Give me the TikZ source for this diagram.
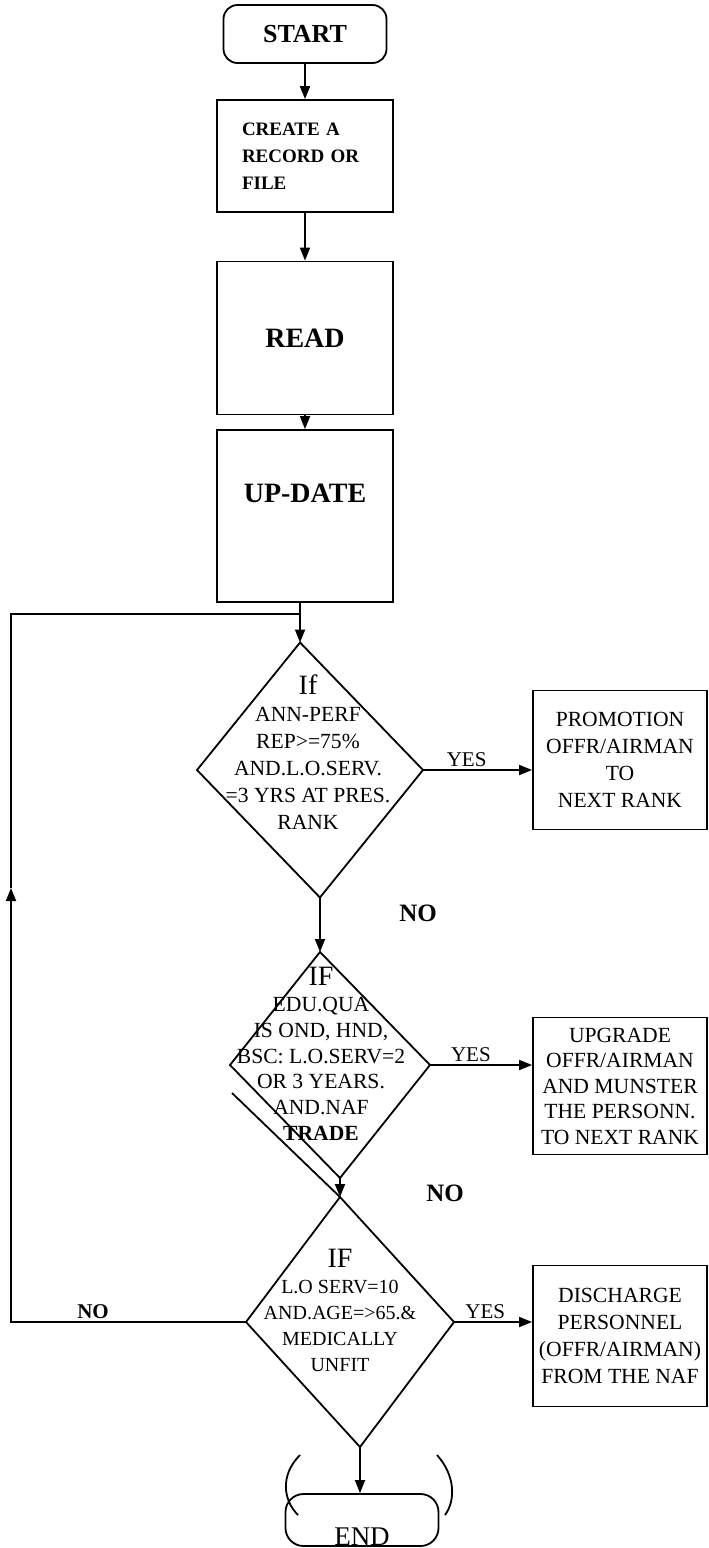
\documentclass[tikz,border=0pt]{standalone}
\usepackage{fontspec}
\setmainfont{Liberation Serif}
\usetikzlibrary{arrows.meta, positioning, shapes.geometric, calc}

\begin{document}
\begin{tikzpicture}[
    x=0.5pt, y=-0.5pt,
    line width=0.9pt,
    >={Triangle[length=6.5pt,width=5pt]},
    terminal/.style={
        rectangle,
        rounded corners=7pt,
        draw=black,
        inner sep=0pt,
        minimum width=81.5pt,
        minimum height=29pt,
        font=\fontsize{13}{15}\selectfont\bfseries
    },
    procbox/.style={
        rectangle,
        draw=black,
        minimum width=88pt,
        align=center,
        font=\fontsize{14}{16}\selectfont\bfseries
    },
    decision/.style={
        diamond,
        draw=black,
        inner sep=0pt,
        outer sep=0pt
    },
    condtext/.style={
        align=center,
        inner sep=0pt,
        font=\fontsize{10.8}{13.5}\selectfont
    },
    outbox/.style={
        rectangle,
        draw=black,
        inner sep=2pt,
        minimum width=87pt,
        align=center,
        font=\fontsize{10.8}{13.5}\selectfont
    },
    yeslbl/.style={
        above,
        inner sep=1pt,
        font=\fontsize{10.5}{12}\selectfont
    },
    nolbl/.style={
        font=\fontsize{12.5}{14}\selectfont\bfseries
    }
]
\useasboundingbox (0,0) rectangle (708,1548);

% Main column
\node[terminal] (start) at (305,34) {START};

\node[procbox, minimum height=56pt, align=left, text width=63pt, inner xsep=12.5pt,
      font=\fontsize{9.5}{13.5}\selectfont\bfseries] (create) at (305,156) {CREATE A\\RECORD OR\\FILE};

\node[procbox, minimum height=76.5pt] (read) at (305,338) {READ};

\node[procbox, minimum height=86pt, text height=9pt, text depth=23pt] (update) at (305,516) {UP-DATE};

% Decisions
\node[decision, minimum width=113pt, minimum height=127.5pt, xslant=-0.078] (d1) at (310,770) {};
\node[condtext] (d1txt) at (308,752) {{\fontsize{14}{14}\selectfont If}\\ANN-PERF\\REP>=75\%\\AND.L.O.SERV.\\=3 YRS AT PRES.\\RANK};

\node[decision, minimum width=100pt, minimum height=113pt, xslant=-0.0885] (d2) at (330,1065) {};
\node[condtext, font=\fontsize{10.8}{12.9}\selectfont] (d2txt) at (321,1054) {{\fontsize{14}{14}\selectfont IF}\\EDU.QUA\\IS OND, HND,\\BSC: L.O.SERV=2\\OR 3 YEARS.\\AND.NAF\\\textbf{TRADE}};

\node[decision, minimum width=104pt, minimum height=125pt, xslant=-0.08] (d3) at (350,1322) {};
\node[condtext, font=\fontsize{10}{13}\selectfont] (d3txt) at (340,1310) {{\fontsize{14}{14}\selectfont IF}\\L.O SERV=10\\AND.AGE=>65.\&\\MEDICALLY\\UNFIT};

\node[terminal, minimum width=76.5pt, minimum height=26pt, rounded corners=9pt,
      text height=25pt, text depth=0pt, font=\fontsize{13.5}{15}\selectfont] (stop) at (362,1520) {END};

% Right side: results
\node[outbox, minimum height=69.5pt] (promo) at (620,760) {PROMOTION\\OFFR/AIRMAN\\TO\\NEXT RANK};
\node[outbox, minimum height=68.5pt, inner ysep=1pt, font=\fontsize{10.8}{12.75}\selectfont] (upgrade) at (620,1086) {UPGRADE\\OFFR/AIRMAN\\AND MUNSTER\\THE PERSONN.\\TO NEXT RANK};
\node[outbox, minimum height=70.5pt] (discharge) at (620,1336) {DISCHARGE\\PERSONNEL\\(OFFR/AIRMAN)\\FROM THE NAF};

% Main arrows
\draw[->] (start) -- (create);
\draw[->] (create) -- (read);
\draw[->] (read) -- (update);
\draw[->] (update.south -| d1.north) -- (d1.north);
\draw[->] (d1.south) -- (d2.north);
\draw[->] (d2.south) -- (d3.north);
\draw[->] (d3.south) -- (d3.south |- stop.north);

% YES branches
\draw[->] (d1.east) -- (d1.east -| promo.west) node[yeslbl, pos=0.4] {YES};
\draw[->] (d2.east) -- (d2.east -| upgrade.west) node[yeslbl, pos=0.4] {YES};
\draw[->] (d3.east) -- (d3.east -| discharge.west) node[yeslbl, pos=0.4] {YES};

% NO labels
\node[nolbl] (no1) at (418,913) {NO};
\node[nolbl] (no2) at (445,1193) {NO};
\node[nolbl, font=\fontsize{10.5}{12}\selectfont\bfseries] (no3) at (93,1312) {NO};

% Loop back
\coordinate (join) at (300,614);
\coordinate (corner) at (11,614);
\coordinate (loopup) at (11,888);
\draw[->] (d3.west) -| (loopup);
\draw (loopup) -- (corner) -- (join);

% stray strokes
\draw (232,1093) -- (d3.north);
\draw (300,1455) .. controls (280,1475) and (283,1500) .. (298,1515);
\draw (437,1455) .. controls (455,1475) and (456,1500) .. (445,1515);

\end{tikzpicture}
\end{document}
